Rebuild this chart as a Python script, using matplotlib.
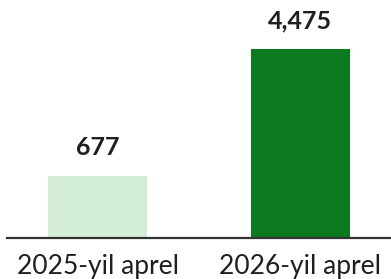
import numpy as np
import matplotlib
matplotlib.use("Agg")
import matplotlib.pyplot as plt

# ── Data ────────────────────────────────────────────────────────────────
categories = ["2025-yil aprel", "2026-yil aprel"]
values = [677, 4475]
value_labels = ["677", "4,475"]
colors = ["#d4edd7", "#0b7a1f"]

# the original chart compresses heights; mimic with a power scale
p = 0.59

plt.rcParams['font.family'] = ['Lato', 'DejaVu Sans']

fig = plt.figure(figsize=(3.91, 2.79), dpi=100)
ax = fig.add_axes([7 / 391, 41.5 / 279, 384 / 391, 188.5 / 279])

x = np.arange(len(categories))
ax.bar(x, values, width=0.49, color=colors, zorder=2)
ax.set_yscale('function', functions=(lambda v: np.sign(v) * np.abs(v) ** p,
                                     lambda v: np.sign(v) * np.abs(v) ** (1 / p)))
ax.set_xlim(-0.446, 1.446)
ax.set_ylim(0, max(values))

for xi, v, lab in zip(x, values, value_labels):
    ax.annotate(lab, (xi, v), xytext=(0, 12), textcoords='offset points',
                ha='center', va='bottom', fontsize=18, fontweight='bold',
                color='#1f1f1f', annotation_clip=False)

ax.set_xticks(x)
ax.set_xticklabels(categories, fontsize=19, color='#1f1f1f')
ax.tick_params(axis='x', length=0, pad=12)
ax.set_yticks([])
ax.yaxis.set_minor_locator(matplotlib.ticker.NullLocator())
for s in ['top', 'right', 'left']:
    ax.spines[s].set_visible(False)
ax.spines['bottom'].set_color('#333333')
ax.spines['bottom'].set_linewidth(1.6)
ax.spines['bottom'].set_zorder(3)

fig.savefig("out.png", dpi=100)
